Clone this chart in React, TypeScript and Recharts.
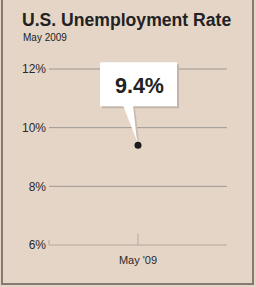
import { LineChart, Line, XAxis, YAxis, CartesianGrid } from "recharts";

const months = ["May '09"];
const rates = [9.4];
const yTicks = [6, 8, 10, 12];
const gridValues = [8, 10, 12];

const data = months.map((month, i) => ({ month, rate: rates[i] }));

const FONT = '"Liberation Sans", Arial, Helvetica, sans-serif';
const BG = "#e5d5c7";

function YTick(props: any) {
  const { x, y, payload } = props;
  return (
    <g>
      <text
        x={x}
        y={y}
        dy="0.36em"
        textAnchor="end"
        fontSize={12}
        fontFamily={FONT}
        fill="#2a2a2a"
      >
        {`${payload.value}%`}
      </text>
      {payload.value === yTicks[0] && (
        <line x1={x + 3} x2={x + 3} y1={y} y2={y - 5} stroke="#b3a89d" />
      )}
    </g>
  );
}

function XTick(props: any) {
  const { x, y, payload } = props;
  return (
    <g>
      <line x1={x} x2={x} y1={y} y2={y - 11} stroke="#b3a89d" />
      <text
        x={x}
        y={y + 19}
        textAnchor="middle"
        fontSize={11}
        fontFamily={FONT}
        fill="#2a2a2a"
      >
        {payload.value}
      </text>
    </g>
  );
}

function Callout(props: any) {
  const { x, y, value } = props;
  if (x == null || y == null) return null;
  return (
    <g>
      <rect x={x - 36} y={y - 81} width={77} height={44} fill="#c2b6aa" />
      <polygon
        points={`${x - 13},${y - 38} ${x - 3},${y - 38} ${x + 1},${y - 3}`}
        fill="#c9bdb2"
      />
      <rect x={x - 38} y={y - 83} width={77} height={44} fill="#ffffff" />
      <polygon
        points={`${x - 15},${y - 40} ${x - 5},${y - 40} ${x - 1},${y - 4}`}
        fill="#ffffff"
      />
      <text
        x={x + 1.5}
        y={y - 52}
        textAnchor="middle"
        fontSize={21.5}
        fontWeight="bold"
        fontFamily={FONT}
        fill="#222"
      >
        {`${value}%`}
      </text>
    </g>
  );
}

export default function App() {
  return (
    <div
      style={{
        position: "absolute",
        left: 0,
        top: 0,
        width: 256,
        height: 287,
        background: BG,
        overflow: "hidden",
        fontFamily: FONT,
      }}
    >
      <div
        style={{
          position: "absolute",
          left: 1,
          top: 0,
          width: 253,
          height: 285,
          borderLeft: "2px solid #857a72",
          borderRight: "2px solid #857a72",
          borderBottom: "2px solid #857a72",
          boxSizing: "border-box",
        }}
      />
      <div
        style={{
          position: "absolute",
          left: 22,
          top: 11,
          fontSize: 17.6,
          lineHeight: "18px",
          fontWeight: "bold",
          color: "#222",
          whiteSpace: "nowrap",
        }}
      >
        U.S. Unemployment Rate
      </div>
      <div
        style={{
          position: "absolute",
          left: 23,
          top: 33,
          fontSize: 10,
          lineHeight: "10px",
          color: "#222",
          whiteSpace: "nowrap",
        }}
      >
        May 2009
      </div>
      <div style={{ position: "absolute", left: 0, top: 0 }}>
        <LineChart
          width={256}
          height={287}
          data={data}
          margin={{ top: 69, right: 29, bottom: 12, left: 0 }}
        >
          <CartesianGrid
            horizontal
            vertical={false}
            horizontalValues={gridValues}
            stroke="#9d9791"
          />
          <XAxis
            dataKey="month"
            height={30}
            axisLine={{ stroke: "#b3a89d" }}
            tickLine={false}
            tickSize={0}
            tickMargin={0}
            tick={<XTick />}
          />
          <YAxis
            width={49}
            domain={[6, 12]}
            ticks={yTicks}
            axisLine={false}
            tickLine={false}
            tickSize={0}
            tickMargin={3}
            tick={<YTick />}
          />
          <Line
            dataKey="rate"
            stroke="none"
            isAnimationActive={false}
            dot={{ r: 3.5, fill: "#1b1b1b", stroke: "none" }}
            label={<Callout />}
          />
        </LineChart>
      </div>
    </div>
  );
}
